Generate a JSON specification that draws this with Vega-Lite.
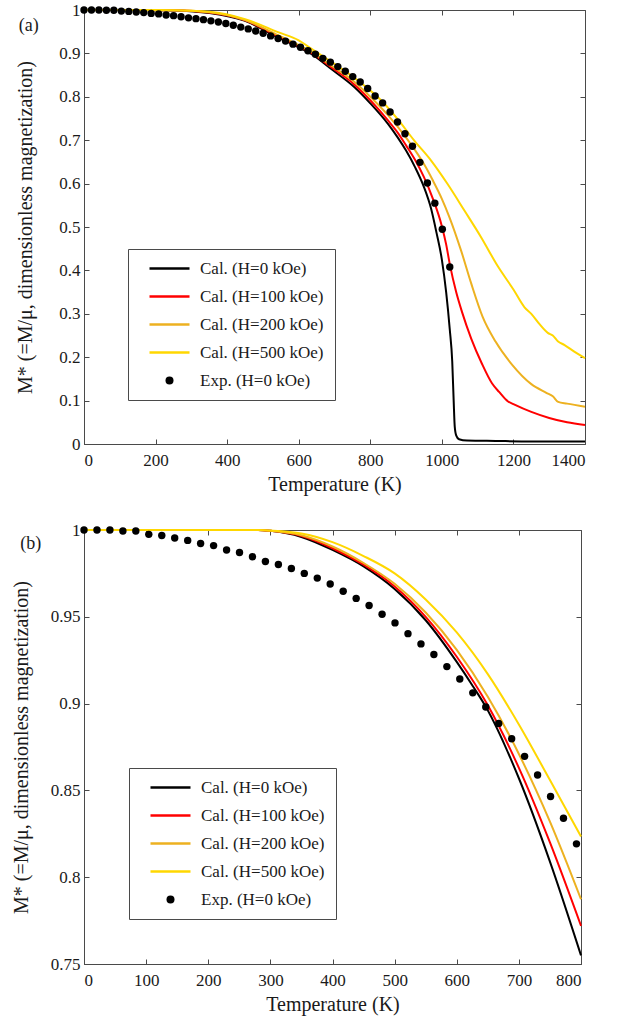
{
  "$schema": "https://vega.github.io/schema/vega-lite/v6.json",
  "padding": {"left": 10, "top": 0, "right": 5, "bottom": 5},
  "background": "white",
  "spacing": 25,
  "config": {
    "font": "Liberation Serif",
    "style": {"guide-title": {"font": "Liberation Serif", "fontWeight": "normal"}, "guide-label": {"font": "Liberation Serif"}},
    "view": {"stroke": "#4a4a4a", "strokeWidth": 1},
    "axis": {
      "labelFont": "Liberation Serif", "labelFontSize": 17, "labelColor": "#1a1a1a",
      "titleFont": "Liberation Serif", "titleFontSize": 20, "titleFontWeight": "normal", "titleColor": "#1a1a1a",
      "grid": false, "domainColor": "#4a4a4a", "tickColor": "#4a4a4a", "tickSize": -5, "domainWidth": 1, "tickWidth": 1
    },
    "title": {"font": "Liberation Serif", "fontSize": 18, "fontWeight": "normal", "color": "#1a1a1a", "anchor": "start", "frame": "bounds"}
  },
  "datasets": {
    "calcA": [
      {"series": "Cal. (H=0 kOe)", "T": 0, "M": 1}, {"series": "Cal. (H=0 kOe)", "T": 150, "M": 1}, {"series": "Cal. (H=0 kOe)", "T": 250, "M": 0.999}, {"series": "Cal. (H=0 kOe)", "T": 350, "M": 0.993}, {"series": "Cal. (H=0 kOe)", "T": 450, "M": 0.975}, {"series": "Cal. (H=0 kOe)", "T": 542, "M": 0.937}, {"series": "Cal. (H=0 kOe)", "T": 600, "M": 0.914}, {"series": "Cal. (H=0 kOe)", "T": 635, "M": 0.899}, {"series": "Cal. (H=0 kOe)", "T": 691, "M": 0.864}, {"series": "Cal. (H=0 kOe)", "T": 756, "M": 0.822}, {"series": "Cal. (H=0 kOe)", "T": 800, "M": 0.785}, {"series": "Cal. (H=0 kOe)", "T": 850, "M": 0.737}, {"series": "Cal. (H=0 kOe)", "T": 876, "M": 0.707}, {"series": "Cal. (H=0 kOe)", "T": 900, "M": 0.676}, {"series": "Cal. (H=0 kOe)", "T": 925, "M": 0.638}, {"series": "Cal. (H=0 kOe)", "T": 950, "M": 0.592}, {"series": "Cal. (H=0 kOe)", "T": 970, "M": 0.542}, {"series": "Cal. (H=0 kOe)", "T": 985, "M": 0.487}, {"series": "Cal. (H=0 kOe)", "T": 1000, "M": 0.425}, {"series": "Cal. (H=0 kOe)", "T": 1012, "M": 0.35}, {"series": "Cal. (H=0 kOe)", "T": 1022, "M": 0.265}, {"series": "Cal. (H=0 kOe)", "T": 1029, "M": 0.19}, {"series": "Cal. (H=0 kOe)", "T": 1033, "M": 0.1}, {"series": "Cal. (H=0 kOe)", "T": 1036, "M": 0.04}, {"series": "Cal. (H=0 kOe)", "T": 1040, "M": 0.02}, {"series": "Cal. (H=0 kOe)", "T": 1048, "M": 0.011}, {"series": "Cal. (H=0 kOe)", "T": 1070, "M": 0.008}, {"series": "Cal. (H=0 kOe)", "T": 1150, "M": 0.007}, {"series": "Cal. (H=0 kOe)", "T": 1250, "M": 0.006}, {"series": "Cal. (H=0 kOe)", "T": 1400, "M": 0.006},
      {"series": "Cal. (H=100 kOe)", "T": 0, "M": 1}, {"series": "Cal. (H=100 kOe)", "T": 150, "M": 1}, {"series": "Cal. (H=100 kOe)", "T": 250, "M": 0.9993}, {"series": "Cal. (H=100 kOe)", "T": 350, "M": 0.994}, {"series": "Cal. (H=100 kOe)", "T": 450, "M": 0.976}, {"series": "Cal. (H=100 kOe)", "T": 542, "M": 0.939}, {"series": "Cal. (H=100 kOe)", "T": 600, "M": 0.916}, {"series": "Cal. (H=100 kOe)", "T": 635, "M": 0.901}, {"series": "Cal. (H=100 kOe)", "T": 691, "M": 0.868}, {"series": "Cal. (H=100 kOe)", "T": 756, "M": 0.828}, {"series": "Cal. (H=100 kOe)", "T": 800, "M": 0.792}, {"series": "Cal. (H=100 kOe)", "T": 850, "M": 0.745}, {"series": "Cal. (H=100 kOe)", "T": 877, "M": 0.717}, {"series": "Cal. (H=100 kOe)", "T": 900, "M": 0.688}, {"series": "Cal. (H=100 kOe)", "T": 925, "M": 0.655}, {"series": "Cal. (H=100 kOe)", "T": 950, "M": 0.615}, {"series": "Cal. (H=100 kOe)", "T": 975, "M": 0.565}, {"series": "Cal. (H=100 kOe)", "T": 1000, "M": 0.502}, {"series": "Cal. (H=100 kOe)", "T": 1012, "M": 0.46}, {"series": "Cal. (H=100 kOe)", "T": 1022, "M": 0.415}, {"series": "Cal. (H=100 kOe)", "T": 1040, "M": 0.35}, {"series": "Cal. (H=100 kOe)", "T": 1056, "M": 0.305}, {"series": "Cal. (H=100 kOe)", "T": 1082, "M": 0.243}, {"series": "Cal. (H=100 kOe)", "T": 1112, "M": 0.185}, {"series": "Cal. (H=100 kOe)", "T": 1140, "M": 0.14}, {"series": "Cal. (H=100 kOe)", "T": 1160, "M": 0.12}, {"series": "Cal. (H=100 kOe)", "T": 1185, "M": 0.098}, {"series": "Cal. (H=100 kOe)", "T": 1200, "M": 0.092}, {"series": "Cal. (H=100 kOe)", "T": 1250, "M": 0.074}, {"series": "Cal. (H=100 kOe)", "T": 1300, "M": 0.06}, {"series": "Cal. (H=100 kOe)", "T": 1350, "M": 0.05}, {"series": "Cal. (H=100 kOe)", "T": 1400, "M": 0.044},
      {"series": "Cal. (H=200 kOe)", "T": 0, "M": 1}, {"series": "Cal. (H=200 kOe)", "T": 150, "M": 1}, {"series": "Cal. (H=200 kOe)", "T": 250, "M": 0.9995}, {"series": "Cal. (H=200 kOe)", "T": 350, "M": 0.995}, {"series": "Cal. (H=200 kOe)", "T": 450, "M": 0.977}, {"series": "Cal. (H=200 kOe)", "T": 542, "M": 0.942}, {"series": "Cal. (H=200 kOe)", "T": 600, "M": 0.919}, {"series": "Cal. (H=200 kOe)", "T": 635, "M": 0.904}, {"series": "Cal. (H=200 kOe)", "T": 691, "M": 0.872}, {"series": "Cal. (H=200 kOe)", "T": 756, "M": 0.834}, {"series": "Cal. (H=200 kOe)", "T": 800, "M": 0.8}, {"series": "Cal. (H=200 kOe)", "T": 850, "M": 0.757}, {"series": "Cal. (H=200 kOe)", "T": 900, "M": 0.706}, {"series": "Cal. (H=200 kOe)", "T": 925, "M": 0.677}, {"series": "Cal. (H=200 kOe)", "T": 950, "M": 0.645}, {"series": "Cal. (H=200 kOe)", "T": 975, "M": 0.607}, {"series": "Cal. (H=200 kOe)", "T": 1000, "M": 0.565}, {"series": "Cal. (H=200 kOe)", "T": 1021, "M": 0.523}, {"series": "Cal. (H=200 kOe)", "T": 1054, "M": 0.445}, {"series": "Cal. (H=200 kOe)", "T": 1082, "M": 0.37}, {"series": "Cal. (H=200 kOe)", "T": 1114, "M": 0.293}, {"series": "Cal. (H=200 kOe)", "T": 1150, "M": 0.236}, {"series": "Cal. (H=200 kOe)", "T": 1196, "M": 0.183}, {"series": "Cal. (H=200 kOe)", "T": 1250, "M": 0.138}, {"series": "Cal. (H=200 kOe)", "T": 1292, "M": 0.118}, {"series": "Cal. (H=200 kOe)", "T": 1310, "M": 0.11}, {"series": "Cal. (H=200 kOe)", "T": 1325, "M": 0.097}, {"series": "Cal. (H=200 kOe)", "T": 1350, "M": 0.093}, {"series": "Cal. (H=200 kOe)", "T": 1400, "M": 0.086},
      {"series": "Cal. (H=500 kOe)", "T": 0, "M": 1}, {"series": "Cal. (H=500 kOe)", "T": 150, "M": 1}, {"series": "Cal. (H=500 kOe)", "T": 250, "M": 0.9997}, {"series": "Cal. (H=500 kOe)", "T": 350, "M": 0.996}, {"series": "Cal. (H=500 kOe)", "T": 450, "M": 0.979}, {"series": "Cal. (H=500 kOe)", "T": 542, "M": 0.949}, {"series": "Cal. (H=500 kOe)", "T": 600, "M": 0.93}, {"series": "Cal. (H=500 kOe)", "T": 635, "M": 0.911}, {"series": "Cal. (H=500 kOe)", "T": 690, "M": 0.881}, {"series": "Cal. (H=500 kOe)", "T": 750, "M": 0.847}, {"series": "Cal. (H=500 kOe)", "T": 783, "M": 0.826}, {"series": "Cal. (H=500 kOe)", "T": 830, "M": 0.792}, {"series": "Cal. (H=500 kOe)", "T": 876, "M": 0.749}, {"series": "Cal. (H=500 kOe)", "T": 923, "M": 0.699}, {"series": "Cal. (H=500 kOe)", "T": 970, "M": 0.653}, {"series": "Cal. (H=500 kOe)", "T": 1016, "M": 0.599}, {"series": "Cal. (H=500 kOe)", "T": 1063, "M": 0.538}, {"series": "Cal. (H=500 kOe)", "T": 1110, "M": 0.476}, {"series": "Cal. (H=500 kOe)", "T": 1156, "M": 0.41}, {"series": "Cal. (H=500 kOe)", "T": 1200, "M": 0.356}, {"series": "Cal. (H=500 kOe)", "T": 1231, "M": 0.315}, {"series": "Cal. (H=500 kOe)", "T": 1250, "M": 0.3}, {"series": "Cal. (H=500 kOe)", "T": 1273, "M": 0.276}, {"series": "Cal. (H=500 kOe)", "T": 1296, "M": 0.256}, {"series": "Cal. (H=500 kOe)", "T": 1310, "M": 0.25}, {"series": "Cal. (H=500 kOe)", "T": 1324, "M": 0.237}, {"series": "Cal. (H=500 kOe)", "T": 1343, "M": 0.228}, {"series": "Cal. (H=500 kOe)", "T": 1370, "M": 0.213}, {"series": "Cal. (H=500 kOe)", "T": 1400, "M": 0.198}
    ],
    "calcB": [
      {"series": "Cal. (H=0 kOe)", "T": 0, "M": 1}, {"series": "Cal. (H=0 kOe)", "T": 280, "M": 1}, {"series": "Cal. (H=0 kOe)", "T": 300, "M": 0.9995}, {"series": "Cal. (H=0 kOe)", "T": 350, "M": 0.996}, {"series": "Cal. (H=0 kOe)", "T": 400, "M": 0.9885}, {"series": "Cal. (H=0 kOe)", "T": 450, "M": 0.979}, {"series": "Cal. (H=0 kOe)", "T": 500, "M": 0.966}, {"series": "Cal. (H=0 kOe)", "T": 550, "M": 0.948}, {"series": "Cal. (H=0 kOe)", "T": 600, "M": 0.924}, {"series": "Cal. (H=0 kOe)", "T": 626, "M": 0.91}, {"series": "Cal. (H=0 kOe)", "T": 647, "M": 0.898}, {"series": "Cal. (H=0 kOe)", "T": 700, "M": 0.857}, {"series": "Cal. (H=0 kOe)", "T": 750, "M": 0.809}, {"series": "Cal. (H=0 kOe)", "T": 800, "M": 0.755},
      {"series": "Cal. (H=100 kOe)", "T": 0, "M": 1}, {"series": "Cal. (H=100 kOe)", "T": 280, "M": 1}, {"series": "Cal. (H=100 kOe)", "T": 300, "M": 0.9995}, {"series": "Cal. (H=100 kOe)", "T": 350, "M": 0.9965}, {"series": "Cal. (H=100 kOe)", "T": 400, "M": 0.9895}, {"series": "Cal. (H=100 kOe)", "T": 450, "M": 0.98}, {"series": "Cal. (H=100 kOe)", "T": 500, "M": 0.9675}, {"series": "Cal. (H=100 kOe)", "T": 550, "M": 0.95}, {"series": "Cal. (H=100 kOe)", "T": 600, "M": 0.927}, {"series": "Cal. (H=100 kOe)", "T": 650, "M": 0.899}, {"series": "Cal. (H=100 kOe)", "T": 700, "M": 0.863}, {"series": "Cal. (H=100 kOe)", "T": 750, "M": 0.82}, {"series": "Cal. (H=100 kOe)", "T": 800, "M": 0.772},
      {"series": "Cal. (H=200 kOe)", "T": 0, "M": 1}, {"series": "Cal. (H=200 kOe)", "T": 280, "M": 1}, {"series": "Cal. (H=200 kOe)", "T": 300, "M": 0.9996}, {"series": "Cal. (H=200 kOe)", "T": 350, "M": 0.997}, {"series": "Cal. (H=200 kOe)", "T": 400, "M": 0.9905}, {"series": "Cal. (H=200 kOe)", "T": 450, "M": 0.981}, {"series": "Cal. (H=200 kOe)", "T": 500, "M": 0.969}, {"series": "Cal. (H=200 kOe)", "T": 550, "M": 0.9525}, {"series": "Cal. (H=200 kOe)", "T": 600, "M": 0.931}, {"series": "Cal. (H=200 kOe)", "T": 650, "M": 0.904}, {"series": "Cal. (H=200 kOe)", "T": 700, "M": 0.871}, {"series": "Cal. (H=200 kOe)", "T": 750, "M": 0.832}, {"series": "Cal. (H=200 kOe)", "T": 800, "M": 0.7873},
      {"series": "Cal. (H=500 kOe)", "T": 0, "M": 1}, {"series": "Cal. (H=500 kOe)", "T": 280, "M": 1}, {"series": "Cal. (H=500 kOe)", "T": 300, "M": 0.9997}, {"series": "Cal. (H=500 kOe)", "T": 350, "M": 0.998}, {"series": "Cal. (H=500 kOe)", "T": 400, "M": 0.993}, {"series": "Cal. (H=500 kOe)", "T": 450, "M": 0.985}, {"series": "Cal. (H=500 kOe)", "T": 500, "M": 0.975}, {"series": "Cal. (H=500 kOe)", "T": 550, "M": 0.96}, {"series": "Cal. (H=500 kOe)", "T": 600, "M": 0.941}, {"series": "Cal. (H=500 kOe)", "T": 650, "M": 0.917}, {"series": "Cal. (H=500 kOe)", "T": 700, "M": 0.888}, {"series": "Cal. (H=500 kOe)", "T": 750, "M": 0.856}, {"series": "Cal. (H=500 kOe)", "T": 800, "M": 0.8235}
    ],
    "exp": [
      {"T": 0, "M": 1}, {"T": 20.9, "M": 1}, {"T": 41.7, "M": 1}, {"T": 62.6, "M": 0.9994}, {"T": 83.4, "M": 0.9994}, {"T": 104.3, "M": 0.9975}, {"T": 125.2, "M": 0.9968}, {"T": 146, "M": 0.9954}, {"T": 166.9, "M": 0.994}, {"T": 187.7, "M": 0.9922},
      {"T": 208.6, "M": 0.991}, {"T": 229.5, "M": 0.9885}, {"T": 250.3, "M": 0.987}, {"T": 271.2, "M": 0.9846}, {"T": 292, "M": 0.9819}, {"T": 312.9, "M": 0.9801}, {"T": 333.8, "M": 0.9778}, {"T": 354.6, "M": 0.975}, {"T": 375.5, "M": 0.9723}, {"T": 396.3, "M": 0.9689},
      {"T": 417.2, "M": 0.9647}, {"T": 438.1, "M": 0.9606}, {"T": 458.9, "M": 0.9565}, {"T": 479.8, "M": 0.9515}, {"T": 500.6, "M": 0.9465}, {"T": 521.5, "M": 0.9403}, {"T": 542.4, "M": 0.9344}, {"T": 563.2, "M": 0.9283}, {"T": 584.1, "M": 0.9213}, {"T": 604.9, "M": 0.9142},
      {"T": 625.8, "M": 0.9062}, {"T": 646.7, "M": 0.898}, {"T": 667.5, "M": 0.8886}, {"T": 688.4, "M": 0.8798}, {"T": 709.2, "M": 0.8696}, {"T": 730.1, "M": 0.8589}, {"T": 751, "M": 0.8465}, {"T": 771.8, "M": 0.834}, {"T": 792.7, "M": 0.8192}, {"T": 813.5, "M": 0.802},
      {"T": 834.4, "M": 0.786}, {"T": 855.3, "M": 0.765}, {"T": 876.1, "M": 0.742}, {"T": 897, "M": 0.715}, {"T": 917.8, "M": 0.686}, {"T": 938.7, "M": 0.649}, {"T": 959.6, "M": 0.6015}, {"T": 980.4, "M": 0.555}, {"T": 1001.3, "M": 0.495}, {"T": 1022.1, "M": 0.408}
    ]
  },
  "vconcat": [
    {
      "width": 501,
      "height": 434,
      "title": {"text": "(a)", "offset": -34, "dx": 3},
      "layer": [
        {
          "data": {"name": "calcA"},
          "mark": {"type": "line", "strokeWidth": 2, "interpolate": "monotone"},
          "encoding": {
            "x": {"field": "T", "type": "quantitative", "scale": {"domain": [0, 1400], "nice": false},
                  "axis": {"orient": "bottom", "title": "Temperature (K)", "format": "d", "values": [0, 200, 400, 600, 800, 1000, 1200, 1400], "labelPadding": 13, "titlePadding": 6,
                           "labelFont": "Liberation Serif", "titleFont": "Liberation Serif", "labelFontSize": 17, "titleFontSize": 20, "titleFontWeight": "normal"}},
            "y": {"field": "M", "type": "quantitative", "scale": {"domain": [0, 1], "nice": false},
                  "axis": {"orient": "left", "title": "M* (=M/μ, dimensionless magnetization)", "values": [0, 0.1, 0.2, 0.3, 0.4, 0.5, 0.6, 0.7, 0.8, 0.9, 1], "format": "~g", "labelPadding": 9, "titlePadding": 23,
                           "labelFont": "Liberation Serif", "titleFont": "Liberation Serif", "labelFontSize": 17, "titleFontSize": 20, "titleFontWeight": "normal"}},
            "color": {"field": "series", "type": "nominal",
                      "scale": {"domain": ["Cal. (H=0 kOe)", "Cal. (H=100 kOe)", "Cal. (H=200 kOe)", "Cal. (H=500 kOe)", "Exp. (H=0 kOe)"], "range": ["#000000", "#ff0000", "#edb120", "#ffd700", "#000000"]},
                      "legend": {"orient": "bottom-left", "offset": 44, "title": null, "padding": 11, "fillColor": "white", "strokeColor": "#4a4a4a",
                                 "labelFont": "Liberation Serif", "labelFontSize": 17, "labelColor": "#1a1a1a", "symbolType": "stroke", "symbolSize": 1600, "symbolStrokeWidth": 2.5, "rowPadding": 10, "labelOffset": 22, "symbolOffset": 22,
                                 "labelExpr": "datum.label + '\u00a0\u00a0\u00a0\u00a0\u00a0\u00a0\u00a0\u00a0\u00a0'",
                                 "encode": {"symbols": {"update": {
                                   "shape": {"signal": "datum.value === 'Exp. (H=0 kOe)' ? 'circle' : 'stroke'"},
                                   "size": {"signal": "datum.value === 'Exp. (H=0 kOe)' ? 64 : 1600"},
                                   "fill": {"signal": "datum.value === 'Exp. (H=0 kOe)' ? '#000000' : 'transparent'"},
                                   "strokeWidth": {"signal": "datum.value === 'Exp. (H=0 kOe)' ? 0 : 2.5"}
                                 }}}}}
          }
        },
        {
          "data": {"name": "exp"},
          "mark": {"type": "point", "filled": true, "size": 55, "color": "#000000", "opacity": 1},
          "encoding": {
            "x": {"field": "T", "type": "quantitative", "scale": {"domain": [0, 1400], "nice": false},
                  "axis": {"orient": "top", "title": null, "labels": false, "domain": false, "values": [0, 200, 400, 600, 800, 1000, 1200, 1400]}},
            "y": {"field": "M", "type": "quantitative", "scale": {"domain": [0, 1], "nice": false},
                  "axis": {"orient": "right", "title": null, "labels": false, "domain": false, "values": [0, 0.1, 0.2, 0.3, 0.4, 0.5, 0.6, 0.7, 0.8, 0.9, 1]}}
          }
        }
      ],
      "resolve": {"axis": {"x": "independent", "y": "independent"}}
    },
    {
      "width": 497,
      "height": 434,
      "title": {"text": "(b)", "offset": -32, "dx": 9},
      "layer": [
        {
          "data": {"name": "calcB"},
          "mark": {"type": "line", "strokeWidth": 2, "interpolate": "monotone"},
          "encoding": {
            "x": {"field": "T", "type": "quantitative", "scale": {"domain": [0, 800], "nice": false},
                  "axis": {"orient": "bottom", "title": "Temperature (K)", "format": "d", "values": [0, 100, 200, 300, 400, 500, 600, 700, 800], "labelPadding": 13, "titlePadding": 6,
                           "labelFont": "Liberation Serif", "titleFont": "Liberation Serif", "labelFontSize": 17, "titleFontSize": 20, "titleFontWeight": "normal"}},
            "y": {"field": "M", "type": "quantitative", "scale": {"domain": [0.75, 1], "nice": false},
                  "axis": {"orient": "left", "title": "M* (=M/μ, dimensionless magnetization)", "values": [0.75, 0.8, 0.85, 0.9, 0.95, 1], "format": "~g", "labelPadding": 9, "titlePadding": 19,
                           "labelFont": "Liberation Serif", "titleFont": "Liberation Serif", "labelFontSize": 17, "titleFontSize": 20, "titleFontWeight": "normal"}},
            "color": {"field": "series", "type": "nominal",
                      "scale": {"domain": ["Cal. (H=0 kOe)", "Cal. (H=100 kOe)", "Cal. (H=200 kOe)", "Cal. (H=500 kOe)", "Exp. (H=0 kOe)"], "range": ["#000000", "#ff0000", "#edb120", "#ffd700", "#000000"]},
                      "legend": {"orient": "bottom-left", "offset": 45, "title": null, "padding": 11, "fillColor": "white", "strokeColor": "#4a4a4a",
                                 "labelFont": "Liberation Serif", "labelFontSize": 17, "labelColor": "#1a1a1a", "symbolType": "stroke", "symbolSize": 1600, "symbolStrokeWidth": 2.5, "rowPadding": 10, "labelOffset": 22, "symbolOffset": 22,
                                 "labelExpr": "datum.label + '\u00a0\u00a0\u00a0\u00a0\u00a0\u00a0\u00a0\u00a0\u00a0'",
                                 "encode": {"symbols": {"update": {
                                   "shape": {"signal": "datum.value === 'Exp. (H=0 kOe)' ? 'circle' : 'stroke'"},
                                   "size": {"signal": "datum.value === 'Exp. (H=0 kOe)' ? 64 : 1600"},
                                   "fill": {"signal": "datum.value === 'Exp. (H=0 kOe)' ? '#000000' : 'transparent'"},
                                   "strokeWidth": {"signal": "datum.value === 'Exp. (H=0 kOe)' ? 0 : 2.5"}
                                 }}}}}
          }
        },
        {
          "data": {"name": "exp"},
          "transform": [{"filter": "datum.T <= 800"}],
          "mark": {"type": "point", "filled": true, "size": 55, "color": "#000000", "opacity": 1},
          "encoding": {
            "x": {"field": "T", "type": "quantitative", "scale": {"domain": [0, 800], "nice": false},
                  "axis": {"orient": "top", "title": null, "labels": false, "domain": false, "values": [0, 100, 200, 300, 400, 500, 600, 700, 800]}},
            "y": {"field": "M", "type": "quantitative", "scale": {"domain": [0.75, 1], "nice": false},
                  "axis": {"orient": "right", "title": null, "labels": false, "domain": false, "values": [0.75, 0.8, 0.85, 0.9, 0.95, 1]}}
          }
        }
      ],
      "resolve": {"axis": {"x": "independent", "y": "independent"}}
    }
  ],
  "resolve": {"scale": {"color": "independent"}, "legend": {"color": "independent"}}
}
